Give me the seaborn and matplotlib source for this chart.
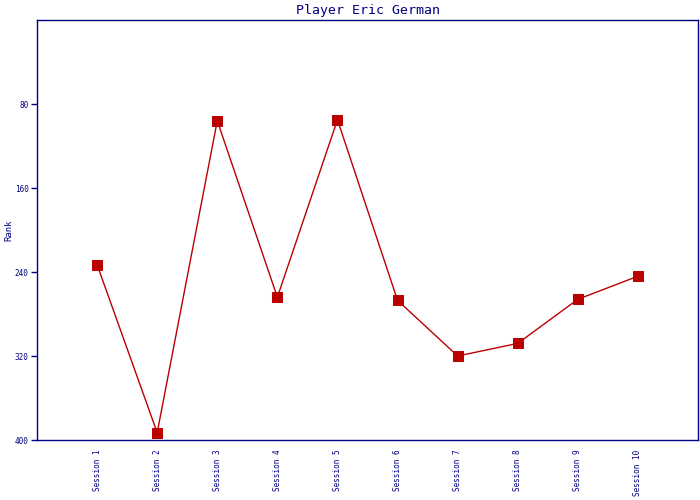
import pandas as pd
import matplotlib
matplotlib.use("Agg")
import matplotlib.pyplot as plt
import seaborn as sns

# Data
sessions = ["Session %d" % i for i in range(1, 11)]
ranks = [233, 393, 96, 264, 95, 267, 320, 308, 266, 244]
y_ticks = [80, 160, 240, 320, 400]

df = pd.DataFrame({"Session": sessions, "Rank": ranks})

sns.set_style("white")
plt.rcParams["font.family"] = ["DejaVu Sans Mono"]

navy = "#000080"
red = "#BB0000"

fig = plt.figure(figsize=(7, 5), dpi=100)
ax = fig.add_axes([37 / 700, 60 / 500, 661 / 700, 420 / 500])

sns.lineplot(x="Session", y="Rank", data=df, ax=ax, color=red, linewidth=1,
             marker="s", markersize=7, markeredgecolor=red, markerfacecolor=red,
             sort=False)

ax.set_xlim(-1, 10)
ax.set_ylim(400, 0)
ax.set_yticks(y_ticks)
ax.set_yticklabels([str(t) for t in y_ticks], fontsize=5.5, color=navy)
ax.set_xticks(range(len(sessions)))
ax.set_xticklabels(sessions, rotation=90, fontsize=5.5, color=navy, va="top")
ax.tick_params(axis="x", length=0, pad=7)
ax.tick_params(axis="y", length=4, width=1, color=navy, direction="out", left=True, pad=2)

for s in ax.spines.values():
    s.set_color(navy)
    s.set_linewidth(1)

ax.set_xlabel("")
ax.set_ylabel("Rank", fontsize=6.5, color=navy)
ax.yaxis.set_label_coords(-24 / 661, 0.5)
ax.set_title("Player Eric German", fontsize=9.5, color=navy, pad=4)

fig.savefig("out.png", dpi=100)
